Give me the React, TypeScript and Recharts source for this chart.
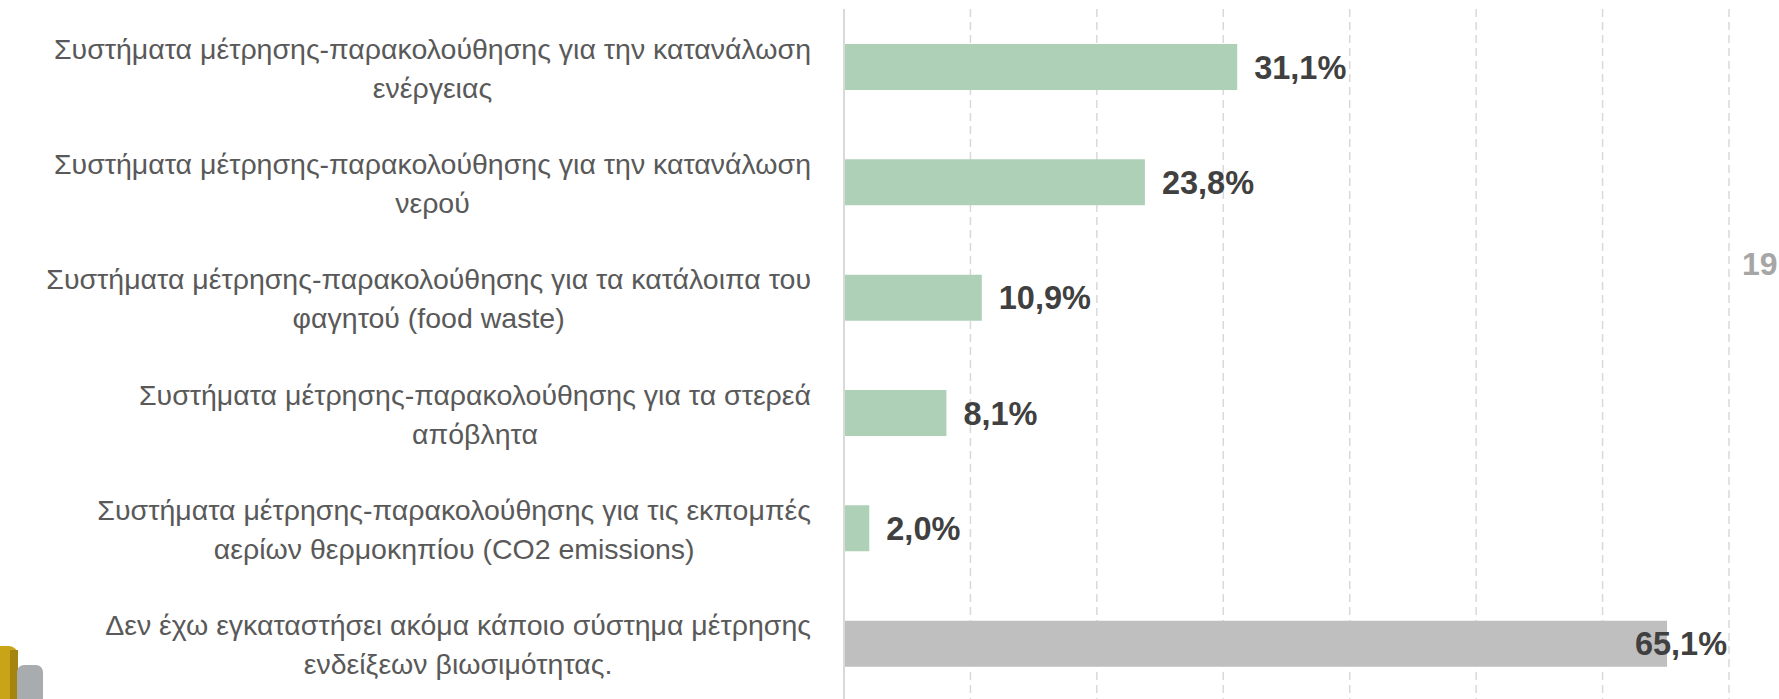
import { BarChart, Bar, XAxis, YAxis, CartesianGrid, Cell, LabelList } from 'recharts';

// categories: "\n" marks where the label wraps
const categories = [
  'Συστήματα μέτρησης-παρακολούθησης για την κατανάλωση\nενέργειας',
  'Συστήματα μέτρησης-παρακολούθησης για την κατανάλωση\nνερού',
  'Συστήματα μέτρησης-παρακολούθησης για τα κατάλοιπα του\nφαγητού (food waste)',
  'Συστήματα μέτρησης-παρακολούθησης για τα στερεά\nαπόβλητα',
  'Συστήματα μέτρησης-παρακολούθησης για τις εκπομπές\nαερίων θερμοκηπίου (CO2 emissions)',
  'Δεν έχω εγκαταστήσει ακόμα κάποιο σύστημα μέτρησης\nενδείξεων βιωσιμότητας.',
];
const values = [31.1, 23.8, 10.9, 8.1, 2.0, 65.1];
const xTicks = [0, 10, 20, 30, 40, 50, 60, 70];
const pageNumber = '19';

const data = categories.map((label, i) => ({ label, value: values[i] }));

const GREEN = '#aed0b6';
const GREY = '#bfbfbf';
const LABEL_FONT = '28.5px "Liberation Sans", Arial, sans-serif';

let canvas: HTMLCanvasElement | null = null;
const measure = (text: string, font: string) => {
  if (!canvas) canvas = document.createElement('canvas');
  const ctx = canvas.getContext('2d')!;
  ctx.font = font;
  return ctx.measureText(text).width;
};

const CategoryTick = (props: any) => {
  const { x, y, payload } = props;
  const lines = String(payload.value).split('\n');
  const right = x - 33;
  const w = measure(lines[0], LABEL_FONT);
  const center = right - w / 2;
  return (
    <g>
      {lines.map((line, i) => (
        <text
          key={i}
          x={center}
          y={y - 8 + i * 39}
          textAnchor="middle"
          fill="#595959"
          style={{ font: LABEL_FONT }}
        >
          {line}
        </text>
      ))}
    </g>
  );
};

const ValueLabel = (props: any) => {
  const { x, y, width, height, value, index } = props;
  const text = Number(value).toFixed(1).replace('.', ',') + '%';
  const last = index === categories.length - 1;
  return (
    <text
      x={last ? x + width + 60 : x + width + 17}
      y={y + height / 2 + 11.5}
      textAnchor={last ? 'end' : 'start'}
      fill="#404040"
      style={{ font: 'bold 32.5px "Liberation Sans", Arial, sans-serif' }}
    >
      {text}
    </text>
  );
};

export default function App() {
  return (
    <div
      style={{
        position: 'absolute',
        left: 0,
        top: 0,
        width: 1779,
        height: 699,
        overflow: 'hidden',
        background: '#fff',
      }}
    >
      <BarChart
        layout="vertical"
        width={1779}
        height={710}
        data={data}
        margin={{ top: 9, right: 50, bottom: 9, left: 0 }}
        barSize={46}
      >
        <CartesianGrid
          horizontal={false}
          stroke="#d9d9d9"
          strokeWidth={1.5}
          strokeDasharray="8 5"
        />
        <XAxis
          type="number"
          domain={[0, 70]}
          ticks={xTicks}
          tick={{ fontSize: 0, fill: 'none' }}
          axisLine={false}
          tickLine={false}
          height={0}
        />
        <YAxis
          type="category"
          dataKey="label"
          width={844}
          tickLine={false}
          tickSize={0}
          tickMargin={0}
          axisLine={{ stroke: '#d9d9d9', strokeWidth: 2 }}
          tick={<CategoryTick />}
          interval={0}
        />
        <Bar dataKey="value" isAnimationActive={false}>
          {data.map((d, i) => (
            <Cell key={d.label} fill={i === data.length - 1 ? GREY : GREEN} />
          ))}
          <LabelList dataKey="value" content={<ValueLabel />} />
        </Bar>
      </BarChart>
      <svg
        width={1779}
        height={699}
        style={{ position: 'absolute', left: 0, top: 0, pointerEvents: 'none' }}
      >
        <text
          x={1742}
          y={275}
          fill="#a6a6a6"
          style={{ font: 'bold 32px "Liberation Sans", Arial, sans-serif' }}
        >
          {pageNumber}
        </text>
        <rect x={-12} y={646} width={30} height={70} rx={9} fill="#c9a416" />
        <rect x={10} y={650} width={8} height={60} fill="#a3850f" />
        <rect x={17} y={665} width={26} height={50} rx={7} fill="#a8acaf" />
      </svg>
    </div>
  );
}
